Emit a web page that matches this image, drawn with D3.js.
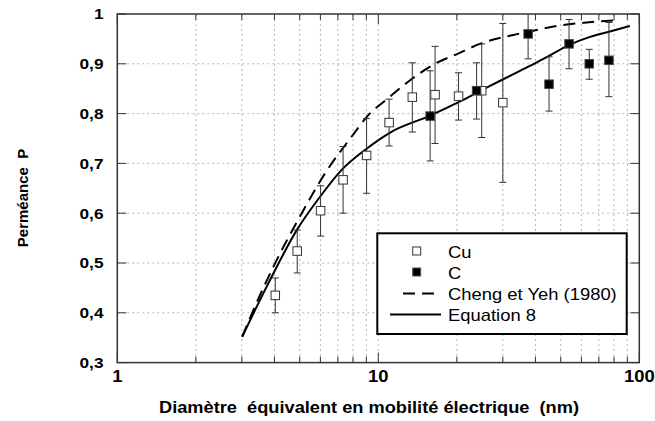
<!DOCTYPE html>
<html><head><meta charset="utf-8">
<script src="https://cdn.jsdelivr.net/npm/d3@7"></script>
<style>body{margin:0;background:#fff}svg{display:block}text{font-family:"Liberation Sans",Arial,sans-serif}</style>
</head><body>
<svg id="c" width="655" height="421"></svg>
<script>
// Cu data (open squares)
const cuD  = [4.03, 4.89, 6.01, 7.33, 9.02, 11.0, 13.5, 16.5, 20.3, 24.9, 30.0];
const cuP  = [0.435, 0.524, 0.605, 0.667, 0.716, 0.782, 0.833, 0.838, 0.835, 0.846, 0.822];
const cuLo = [0.400, 0.480, 0.554, 0.600, 0.640, 0.735, 0.763, 0.740, 0.787, 0.752, 0.662];
const cuHi = [0.470, 0.566, 0.655, 0.734, 0.790, 0.829, 0.902, 0.935, 0.882, 0.940, 0.981];
// C data (filled squares)
const cD  = [15.8, 23.8, 37.5, 45.1, 53.8, 64.3, 76.5];
const cP  = [0.795, 0.846, 0.960, 0.859, 0.940, 0.900, 0.907];
const cLo = [0.705, 0.789, 0.910, 0.805, 0.890, 0.869, 0.834];
const cHi = [0.886, 0.902, 1.010, 0.914, 0.989, 0.929, 0.983];
// Equation 8 (solid)
const eqD = [3.01, 3.79, 4.87, 5.98, 7.24, 8.89, 11.1, 15.8, 20.3, 24.5, 30.1, 34.9, 39.8, 45.1, 53.5, 64.7, 77.2, 92];
const eqP = [0.352, 0.459, 0.566, 0.633, 0.687, 0.727, 0.762, 0.796, 0.823, 0.845, 0.869, 0.886, 0.901, 0.916, 0.937, 0.954, 0.965, 0.976];
// Cheng et Yeh (1980) (dashed)
const chD = [3.01, 3.22, 4.02, 5.09, 6.25, 7.91, 9.16, 10.8, 13.4, 16.5, 20.3, 24.5, 32.9, 38.1, 49.7, 62.9, 84];
const chP = [0.352, 0.389, 0.499, 0.600, 0.680, 0.754, 0.797, 0.829, 0.869, 0.900, 0.921, 0.940, 0.958, 0.965, 0.977, 0.983, 0.988];
// ticks
const yTicks = [0.3, 0.4, 0.5, 0.6, 0.7, 0.8, 0.9, 1.0];
const yTickLabels = ["0,3", "0,4", "0,5", "0,6", "0,7", "0,8", "0,9", "1"];
const xTicks = [1, 10, 100];
const xTickLabels = ["1", "10", "100"];
const xMinor = [2,3,4,5,6,7,8,9,20,30,40,50,60,70,80,90];
const legendLabels = ["Cu", "C", "Cheng et Yeh (1980)", "Equation 8"];

const svg = d3.select("#c");
const L = 117.3, R = 639.3, T = 14, B = 362.6;
const x = d3.scaleLog().domain([1, 100]).range([L, R]);
const y = d3.scaleLinear().domain([0.3, 1.0]).range([B, T]);
const SX = 1.15; // horizontal stretch of the original lettering

function stext(parent, tx, ty, str, size, anchor, bold) {
  return parent.append("g").attr("transform", `translate(${tx},${ty}) scale(${SX},1)`)
    .append("text").attr("text-anchor", anchor).attr("font-size", size)
    .attr("font-weight", bold ? "bold" : "normal").text(str);
}

svg.append("defs").append("clipPath").attr("id", "clip")
  .append("rect").attr("x", L).attr("y", T).attr("width", R - L).attr("height", B - T);

// grid
const g = svg.append("g");
g.selectAll(".vg").data(xMinor.concat([10])).join("line")
  .attr("x1", d => x(d)).attr("x2", d => x(d)).attr("y1", T).attr("y2", B)
  .attr("stroke", "#b5b5b5").attr("stroke-dasharray", "2,3").attr("stroke-width", 1);
g.selectAll(".hg").data(yTicks.slice(1, -1)).join("line")
  .attr("x1", L).attr("x2", R).attr("y1", d => y(d)).attr("y2", d => y(d))
  .attr("stroke", "#b5b5b5").attr("stroke-dasharray", "2,3").attr("stroke-width", 1);

// ticks (inward, all four sides)
const tk = svg.append("g").attr("stroke", "#333").attr("stroke-width", 1);
yTicks.forEach(v => {
  tk.append("line").attr("x1", L).attr("x2", L + 9).attr("y1", y(v)).attr("y2", y(v));
  tk.append("line").attr("x1", R).attr("x2", R - 9).attr("y1", y(v)).attr("y2", y(v));
});
xMinor.forEach(v => {
  tk.append("line").attr("x1", x(v)).attr("x2", x(v)).attr("y1", B).attr("y2", B - 6);
  tk.append("line").attr("x1", x(v)).attr("x2", x(v)).attr("y1", T).attr("y2", T + 6);
});
xTicks.forEach(v => {
  tk.append("line").attr("x1", x(v)).attr("x2", x(v)).attr("y1", B).attr("y2", B - 10);
  tk.append("line").attr("x1", x(v)).attr("x2", x(v)).attr("y1", T).attr("y2", T + 10);
});

// curves
const line = d3.line().x(d => x(d[0])).y(d => y(d[1])).curve(d3.curveMonotoneX);
const plot = svg.append("g").attr("clip-path", "url(#clip)");
plot.append("path").attr("d", line(chD.map((d, i) => [d, chP[i]])))
  .attr("fill", "none").attr("stroke", "#000").attr("stroke-width", 2).attr("stroke-dasharray", "12,7");
plot.append("path").attr("d", line(eqD.map((d, i) => [d, eqP[i]])))
  .attr("fill", "none").attr("stroke", "#000").attr("stroke-width", 2);

// error bars
function errBars(D, lo, hi) {
  const eg = plot.append("g").attr("stroke", "#333").attr("stroke-width", 1);
  D.forEach((d, i) => {
    const cx = x(d);
    eg.append("line").attr("x1", cx).attr("x2", cx).attr("y1", y(lo[i])).attr("y2", y(hi[i]));
    eg.append("line").attr("x1", cx - 3.5).attr("x2", cx + 3.5).attr("y1", y(lo[i])).attr("y2", y(lo[i]));
    eg.append("line").attr("x1", cx - 3.5).attr("x2", cx + 3.5).attr("y1", y(hi[i])).attr("y2", y(hi[i]));
  });
}
errBars(cuD, cuLo, cuHi);
errBars(cD, cLo, cHi);

// markers
const s = 8.5;
plot.append("g").selectAll("rect").data(cuD.map((d, i) => [d, cuP[i]])).join("rect")
  .attr("x", d => x(d[0]) - s / 2).attr("y", d => y(d[1]) - s / 2).attr("width", s).attr("height", s)
  .attr("fill", "#fff").attr("stroke", "#333").attr("stroke-width", 1);
plot.append("g").selectAll("rect").data(cD.map((d, i) => [d, cP[i]])).join("rect")
  .attr("x", d => x(d[0]) - s / 2).attr("y", d => y(d[1]) - s / 2).attr("width", s).attr("height", s)
  .attr("fill", "#000").attr("stroke", "#444").attr("stroke-width", 1);

// frame
svg.append("rect").attr("x", L).attr("y", T).attr("width", R - L).attr("height", B - T)
  .attr("fill", "none").attr("stroke", "#333").attr("stroke-width", 1.5);

// tick labels
const tl = svg.append("g");
yTicks.forEach((v, i) => stext(tl, 103.5, y(v) + 5.3, yTickLabels[i], 15, "end", true));
xTicks.forEach((v, i) => stext(tl, x(v), 381.7, xTickLabels[i], 16, "middle", true));

// axis titles
svg.append("text").attr("x", 369).attr("y", 413.3).attr("text-anchor", "middle")
  .attr("font-size", 16).attr("font-weight", "bold").attr("xml:space", "preserve")
  .attr("textLength", 420).attr("lengthAdjust", "spacingAndGlyphs")
  .text("Diamètre  équivalent en mobilité électrique  (nm)");
svg.append("text").attr("transform", "translate(28,198) rotate(-90)").attr("text-anchor", "middle")
  .attr("font-size", 15).attr("font-weight", "bold").attr("xml:space", "preserve")
  .text("Perméance  P");

// legend
const lg = svg.append("g");
lg.append("rect").attr("x", 377.3).attr("y", 233.3).attr("width", 249.4).attr("height", 100.7)
  .attr("fill", "#fff").attr("stroke", "#000").attr("stroke-width", 2);
const rows = [251, 272, 293.5, 314.5];
const ls = 8;
lg.append("rect").attr("x", 416.7 - ls / 2).attr("y", rows[0] - ls / 2).attr("width", ls).attr("height", ls)
  .attr("fill", "#fff").attr("stroke", "#333");
lg.append("rect").attr("x", 416.7 - ls / 2).attr("y", rows[1] - ls / 2).attr("width", ls).attr("height", ls)
  .attr("fill", "#000").attr("stroke", "#555");
lg.append("line").attr("x1", 403).attr("x2", 441).attr("y1", rows[2]).attr("y2", rows[2])
  .attr("stroke", "#000").attr("stroke-width", 2).attr("stroke-dasharray", "12,7");
lg.append("line").attr("x1", 390).attr("x2", 441).attr("y1", rows[3]).attr("y2", rows[3])
  .attr("stroke", "#000").attr("stroke-width", 2);
legendLabels.forEach((t, i) => stext(lg, 448, rows[i] + 6.5, t, 16, "start", false));
</script>
</body></html>
